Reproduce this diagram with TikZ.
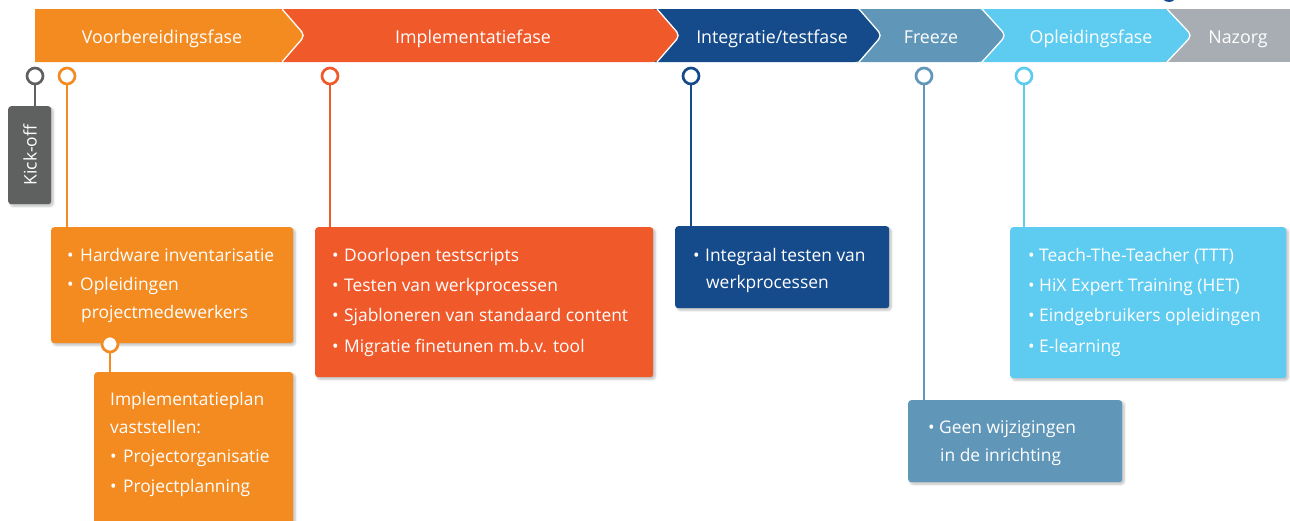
\documentclass[tikz,border=0pt]{standalone}
\usepackage{fontspec}
\setmainfont{Open Sans}
\usetikzlibrary{shadows.blur}
\definecolor{cOrange}{HTML}{F38B21}
\definecolor{cRed}{HTML}{F05A2B}
\definecolor{cDBlue}{HTML}{154B8B}
\definecolor{cFreeze}{HTML}{6096B8}
\definecolor{cLBlue}{HTML}{5ECBF0}
\definecolor{cNazorg}{HTML}{A7ADB2}
\definecolor{cKick}{HTML}{5F6161}
\newcommand\fs{\fontsize{17.4}{21}\selectfont}
\newcommand\fp{\fontsize{17.8}{21}\selectfont}
\newcommand\bul[1]{\makebox[#1][l]{\textbullet}}
\tikzset{
  txt/.style={text=white, font=\fs, anchor=base west, inner sep=0pt},
  phase/.style={text=white, font=\fp, anchor=base, inner sep=0pt},
  box/.style={fill=#1, rounded corners=3pt, anchor=north west, inner sep=0pt,
    blur shadow={shadow xshift=2pt, shadow yshift=-2pt, shadow blur steps=6, shadow opacity=25}},
  ring/.style={circle, draw=#1, fill=white, line width=2.7pt, minimum size=16pt, inner sep=0pt},
  conn/.style={draw=#1, line width=2.7pt},
  chev/.style={draw=white, line width=1.3pt, rounded corners=5pt},
}
\begin{document}
\begin{tikzpicture}[x=1pt,y=-1pt]
\useasboundingbox (0,0) rectangle (1290,520);
\clip (0,0) rectangle (1290,520);
% partial circle at top
\fill[cDBlue] (1169,-6) circle (8);
% phase band, right to left
\fill[cNazorg] (1160,9) rectangle (1290,62);
\fill[cLBlue, rounded corners=5pt] (975,9) -- (1167,9) -- (1192,35.5) -- (1167,62) -- (975,62) -- cycle;
\draw[chev] (1167,9) -- (1192,35.5) -- (1167,62);
\fill[cFreeze, rounded corners=5pt] (850,9) -- (982,9) -- (1006,35.5) -- (982,62) -- (850,62) -- cycle;
\draw[chev] (982,9) -- (1006,35.5) -- (982,62);
\fill[cDBlue, rounded corners=5pt] (650,9) -- (859,9) -- (882,35.5) -- (859,62) -- (650,62) -- cycle;
\draw[chev] (859,9) -- (882,35.5) -- (859,62);
\fill[cRed, rounded corners=5pt] (275,9) -- (657,9) -- (680,35.5) -- (657,62) -- (275,62) -- cycle;
\draw[chev] (657,9) -- (680,35.5) -- (657,62);
\fill[cOrange] (35,9) -- (279,9) [rounded corners=5pt] -- (282,9) -- (305,35.5) -- (282,62) [sharp corners] -- (279,62) -- (35,62) -- cycle;
\draw[chev] (282,9) -- (305,35.5) -- (282,62);
% phase labels
\node[phase] (p1) at (162,43) {Voorbereidingsfase};
\node[phase] (p2) at (473,43) {Implementatiefase};
\node[phase] (p3) at (772,43) {Integratie/testfase};
\node[phase] (p4) at (931,43) {Freeze};
\node[phase] (p5) at (1091,43) {Opleidingsfase};
\node[phase] (p6) at (1238,43) {Nazorg};
% boxes
\node[box=cKick, minimum width=43pt, minimum height=98pt] (kb) at (8,106) {};
\node[text=white, font=\fs, rotate=90, inner sep=0pt] (kt) at (30,155) {Kick-off};
\node[box=cOrange, minimum width=242pt, minimum height=116pt] (b1) at (51,227) {};
\node[box=cOrange, minimum width=199pt, minimum height=160pt] (b2) at (94,372) {};
\node[box=cRed, minimum width=338pt, minimum height=150pt] (b3) at (315,227) {};
\node[box=cDBlue, minimum width=214pt, minimum height=82pt] (b4) at (675,226) {};
\node[box=cFreeze, minimum width=214pt, minimum height=82pt] (b5) at (908,400) {};
\node[box=cLBlue, minimum width=276pt, minimum height=151pt] (b6) at (1010,227) {};
% markers
\node[ring=cKick] (m0) at (35,76) {};
\node[ring=cOrange] (m1) at (67,76) {};
\node[ring=cRed] (m2) at (330,76) {};
\node[ring=cDBlue] (m3) at (691,76) {};
\node[ring=cFreeze] (m4) at (924,76) {};
\node[ring=cLBlue] (m5) at (1024,76) {};
% connectors
\draw[conn=cKick] (m0.south) -- (m0.south |- kb.north);
\draw[conn=cOrange] (m1.south) -- (m1.south |- b1.north);
\draw[conn=cRed] (m2.south) -- (m2.south |- b3.north);
\draw[conn=cDBlue] (m3.south) -- (m3.south |- b4.north);
\draw[conn=cFreeze] (m4.south) -- (m4.south |- b5.north);
\draw[conn=cLBlue] (m5.south) -- (m5.south |- b6.north);
\coordinate (c1pos) at (110,344);
\draw[conn=cOrange] (c1pos) -- (c1pos |- b2.north);
\node[ring=cOrange] (c1) at (c1pos) {};
% texts box 1
\node[txt] (t11) at (67,261) {\bul{13pt}Hardware inventarisatie};
\node[txt] (t12) at (67,290) {\bul{13pt}Opleidingen};
\node[txt] (t13) at (81,318) {projectmedewerkers};
% box 2
\node[txt] (t21) at (110,405) {Implementatieplan};
\node[txt] (t22) at (110,433) {vaststellen:};
\node[txt] (t23) at (110,462) {\bul{13pt}Projectorganisatie};
\node[txt] (t24) at (110,492) {\bul{13pt}Projectplanning};
% box 3
\node[txt] (t31) at (332,261) {\bul{12pt}Doorlopen testscripts};
\node[txt] (t32) at (332,291) {\bul{12pt}Testen van werkprocessen};
\node[txt] (t33) at (332,321) {\bul{12pt}Sjabloneren van standaard content};
\node[txt] (t34) at (332,352) {\bul{12pt}Migratie finetunen m.b.v. tool};
% box 4
\node[txt] (t41) at (693,261) {\bul{12pt}Integraal testen van};
\node[txt] (t42) at (706,288) {werkprocessen};
% box 5
\node[txt] (t51) at (928,433) {\bul{11pt}Geen wijzigingen};
\node[txt] (t52) at (940,461) {in de inrichting};
% box 6
\node[txt] (t61) at (1028,261) {\bul{11pt}Teach-The-Teacher (TTT)};
\node[txt] (t62) at (1028,291) {\bul{11pt}HiX Expert Training (HET)};
\node[txt] (t63) at (1028,321) {\bul{11pt}Eindgebruikers opleidingen};
\node[txt] (t64) at (1028,352) {\bul{11pt}E-learning};
\end{tikzpicture}
\end{document}
